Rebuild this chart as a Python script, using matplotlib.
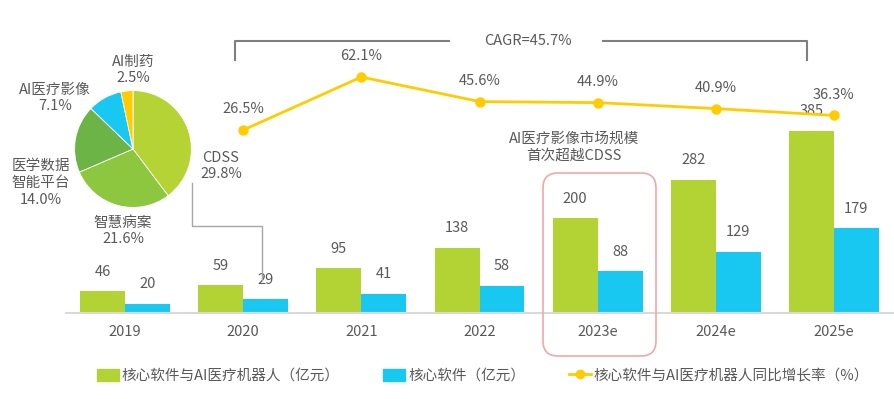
import matplotlib
matplotlib.use('Agg')
import matplotlib.pyplot as plt
import numpy as np
from matplotlib.patches import FancyBboxPatch, Patch
from matplotlib.lines import Line2D

plt.rcParams['font.family'] = ['Noto Sans CJK SC', 'DejaVu Sans']

# data
years = ['2019', '2020', '2021', '2022', '2023e', '2024e', '2025e']
total = [46, 59, 95, 138, 200, 282, 385]        # 核心软件与AI医疗机器人（亿元）
software = [20, 29, 41, 58, 88, 129, 179]       # 核心软件（亿元）
growth = [26.5, 62.1, 45.6, 44.9, 40.9, 36.3]   # 同比增长率 2020-2025e
cagr = 45.7

pie_labels = ['CDSS', '智慧病案', '医学数据\n智能平台', 'AI医疗影像', 'AI制药']
pie_share = [29.8, 21.6, 14.0, 7.1, 2.5]

GREEN = '#b3d334'
CYAN = '#19c8f0'
YELLOW = '#ffcc00'
TXT = '#595959'
FS = 10.5

W, H = 894, 399
fig = plt.figure(figsize=(W / 100, H / 100), dpi=100)


def box(x0, y0, x1, y1):
    # pixel box, origin top-left -> figure rect
    return [x0 / W, 1 - y1 / H, (x1 - x0) / W, (y1 - y0) / H]


def fp(x, y):
    return x / W, 1 - y / H


# bars
ax = fig.add_axes(box(66, 20, 893, 313))
x = np.arange(len(years))
bw = 0.38
ax.bar(x - bw / 2, total, bw, color=GREEN)
ax.bar(x + bw / 2, software, bw, color=CYAN)
for xi, v in zip(x, total):
    ax.annotate(str(v), (xi - bw / 2, v), xytext=(0, 9), textcoords='offset points',
                ha='center', va='bottom', fontsize=FS, color=TXT)
for xi, v in zip(x, software):
    ax.annotate(str(v), (xi + bw / 2, v), xytext=(0, 9), textcoords='offset points',
                ha='center', va='bottom', fontsize=FS, color=TXT)
ax.set_xlim(-0.5, 6.5)
ax.set_ylim(0, 619)
ax.set_xticks(x)
ax.set_xticklabels(years, fontsize=FS, color=TXT)
ax.tick_params(axis='x', length=0, pad=9)
ax.set_yticks([])
for s in ['top', 'right', 'left']:
    ax.spines[s].set_visible(False)
ax.spines['bottom'].set_color('#d9d9d9')
ax.spines['bottom'].set_linewidth(1.5)

# growth line
ax2 = ax.twinx()
ax2.set_ylim(-96.4, 100.4)
ax2.plot(x[1:], growth, color=YELLOW, lw=2, marker='o', ms=6.5)
for xi, v in zip(x[1:], growth):
    ax2.annotate(f'{v}%', (xi, v), xytext=(0, 10), textcoords='offset points',
                 ha='center', va='bottom', fontsize=FS, color=TXT)
ax2.axis('off')

# CAGR bracket
bc = '#7f7f7f'
fig.add_artist(Line2D(*zip(fp(235, 60), fp(235, 41), fp(449, 41)),
                      transform=fig.transFigure, color=bc, lw=1.5))
fig.add_artist(Line2D(*zip(fp(603, 41), fp(807, 41), fp(807, 60)),
                      transform=fig.transFigure, color=bc, lw=1.5))
fig.text(*fp(528, 41), f'CAGR={cagr}%', ha='center', va='center', fontsize=FS, color=TXT)

# annotation + highlight box
fig.text(*fp(574, 147), 'AI医疗影像市场规模\n首次超越CDSS', ha='center', va='center',
         fontsize=FS, color=TXT, linespacing=1.25)
fig.add_artist(FancyBboxPatch((543, H - 356), 113, 183, transform=None,
                              boxstyle='round,pad=0,rounding_size=15',
                              fc='none', ec='#f2a7a7', lw=1.2))

# connector from pie
fig.add_artist(Line2D(*zip(fp(192, 183), fp(192, 226), fp(262, 226), fp(262, 280)),
                      transform=fig.transFigure, color='#a6a6a6', lw=1))

# pie
axp = fig.add_axes(box(74, 90, 192, 208))
axp.pie(pie_share, colors=['#b5d334', '#8dc63f', '#6cb446', CYAN, YELLOW],
        startangle=90, counterclock=False,
        wedgeprops=dict(edgecolor='white', linewidth=0.6))
axp.set_xlim(-1.01, 1.01)
axp.set_ylim(-1.01, 1.01)

pie_pos = [(221, 166), (123, 231), (41, 183), (55, 98), (133, 70)]
for lab, v, (px_, py_) in zip(pie_labels, pie_share, pie_pos):
    fig.text(*fp(px_, py_), f'{lab}\n{v}%', ha='center', va='center',
             fontsize=FS, color=TXT, linespacing=1.25)

# legend
handles = [Patch(color=GREEN), Patch(color=CYAN),
           Line2D([], [], color=YELLOW, lw=2, marker='o', ms=6)]
labels = ['核心软件与AI医疗机器人（亿元）', '核心软件（亿元）', '核心软件与AI医疗机器人同比增长率（%）']
fig.legend(handles, labels, ncol=3, loc='center', bbox_to_anchor=fp(483, 376),
           frameon=False, fontsize=FS, labelcolor=TXT, handlelength=1.5,
           handleheight=0.9, handletextpad=0.2, columnspacing=3.0)

fig.savefig('out.png', dpi=100)
